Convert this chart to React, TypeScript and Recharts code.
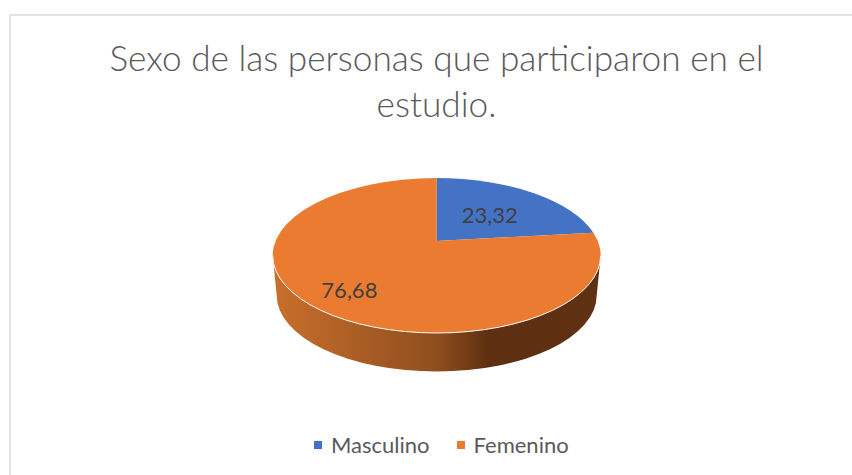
import React from 'react';
import { PieChart, Pie, Cell, Legend } from 'recharts';

const categories = ['Masculino', 'Femenino'];
const values = [23.32, 76.68];
const colors = ['#4472C4', '#EB7B30'];
const titleLines = ['Sexo de las personas que participaron en el', 'estudio.'];
const labelOffsets = [[-6, 4.5], [-8, 8]];

const rows = categories.map((name, i) => ({ name, value: values[i] }));

const RX = 164;
const RY = 77.5;
const DY = 14.5;
const PERSP = 0.82;

function project(cx: number, cy: number, angle: number) {
  const t = ((90 - angle) * Math.PI) / 180;
  const p = 2 * Math.atan2(PERSP * Math.sin(t / 2), Math.cos(t / 2));
  return { x: cx + RX * Math.sin(p), y: cy + DY - RY * Math.cos(p), p };
}

function Face(props: any) {
  const { cx, cy, startAngle, endAngle, fill, index } = props;
  const a = project(cx, cy, startAngle);
  const b = project(cx, cy, endAngle);
  let diff = b.p - a.p;
  if (diff < 0) diff += Math.PI * 2;
  const large = diff > Math.PI ? 1 : 0;
  const d = `M${cx},${cy} L${a.x},${a.y} A${RX},${RY} 0 ${large} 1 ${b.x},${b.y} Z`;
  const ey = cy + DY;
  const side = `M${cx - RX},${ey} L${cx - 160},${ey + 40} A160,76 0 0 0 ${cx + 160},${ey + 40} L${cx + RX},${ey} Z`;
  return (
    <g>
      {index === 1 && <path d={side} fill="url(#sideGrad)" />}
      <path d={d} fill={fill} />
      {index === 1 && (
        <path
          d={`M${cx - RX},${ey} A${RX},${RY} 0 0 0 ${cx + RX},${ey}`}
          fill="none"
          stroke="#fff"
          strokeWidth={1}
        />
      )}
    </g>
  );
}

function renderLabel(props: any) {
  const { cx, cy, midAngle, value, index } = props;
  const e = project(cx, cy, midAngle);
  const x = cx + (e.x - cx) * 0.63 + labelOffsets[index][0];
  const y = cy + (e.y - cy) * 0.63 + labelOffsets[index][1];
  return (
    <text x={x} y={y} textAnchor="middle" dominantBaseline="central" fill="#404040" fontSize={22} fontFamily="Lato">
      {String(value).replace('.', ',')}
    </text>
  );
}

function LegendRow(props: any) {
  return (
    <div style={{ display: 'flex', alignItems: 'center', height: 26 }}>
      {(props.payload || []).map((p: any, i: number) => (
        <div key={p.value} style={{ display: 'flex', alignItems: 'center', marginRight: i === 0 ? 27 : 0 }}>
          <span style={{ width: 8, height: 8, background: p.color, marginRight: 9, display: 'block' }} />
          <span style={{ color: '#595959', fontSize: 22, lineHeight: '26px' }}>{p.value}</span>
        </div>
      ))}
    </div>
  );
}

export default function App() {
  return (
    <div style={{ position: 'absolute', left: 0, top: 0, width: 852, height: 475, background: '#fff', overflow: 'hidden', fontFamily: 'Lato' }}>
      <div style={{ position: 'absolute', left: 9, top: 14, width: 843, height: 461, borderTop: '2px solid #e2e2e2', borderLeft: '2px solid #e2e2e2', boxSizing: 'border-box' }} />
      <div style={{ position: 'absolute', left: 9, width: 855, top: 34, textAlign: 'center', color: '#595959', fontSize: 35.2, lineHeight: '46px', fontWeight: 300 }}>
        {titleLines.map((t) => (
          <div key={t}>{t}</div>
        ))}
      </div>
      <PieChart width={852} height={475} margin={{ top: 0, right: 0, bottom: 0, left: 0 }} style={{ position: 'absolute', left: 0, top: 0 }}>
        <defs>
          <linearGradient id="sideGrad" x1="0" y1="0" x2="1" y2="0">
            <stop offset="0%" stopColor="#C96F2C" />
            <stop offset="50%" stopColor="#8F4E1E" />
            <stop offset="66%" stopColor="#5E2F11" />
            <stop offset="100%" stopColor="#5F3012" />
          </linearGradient>
        </defs>
        <Pie
          data={rows}
          dataKey="value"
          nameKey="name"
          cx={436.7}
          cy={241}
          outerRadius={164}
          startAngle={90}
          endAngle={-270}
          stroke="none"
          shape={Face}
          label={renderLabel}
          labelLine={false}
          isAnimationActive={false}
        >
          {rows.map((r, i) => (
            <Cell key={r.name} fill={colors[i]} />
          ))}
        </Pie>
        <Legend
          itemSorter={null}
          content={LegendRow}
          wrapperStyle={{ left: 314, top: 432, width: 300, height: 26 }}
        />
      </PieChart>
    </div>
  );
}
